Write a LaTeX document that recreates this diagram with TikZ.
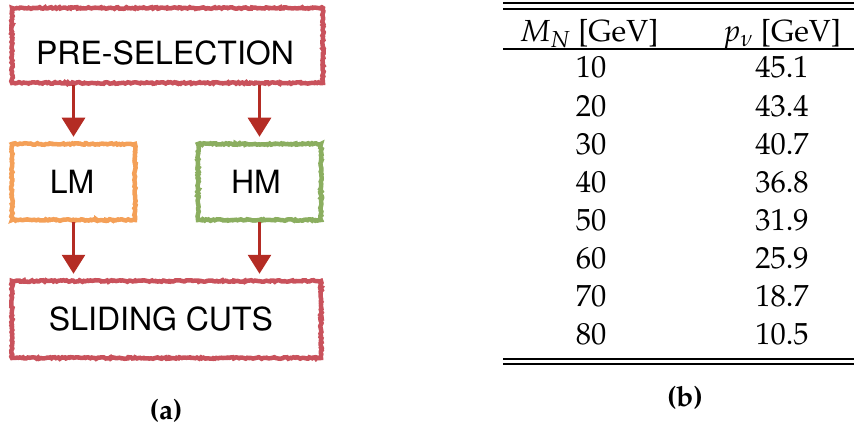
\documentclass[tikz,border=0pt]{standalone}
\usepackage[T1]{fontenc}
\usepackage{mathpazo}
\usepackage[scaled=1]{helvet}
\usetikzlibrary{arrows.meta,decorations.pathmorphing}

\definecolor{boxred}{RGB}{201,82,92}
\definecolor{boxorange}{RGB}{244,160,88}
\definecolor{boxgreen}{RGB}{139,174,96}
\definecolor{arrowred}{RGB}{180,44,36}

\tikzset{
  sketch/.style={decorate, decoration={random steps, segment length=1.6pt, amplitude=0.8pt}},
  flowbox/.style={draw=#1, line width=4.5pt, sketch, minimum height=75pt, inner sep=0pt},
  flowtext/.style={font=\sffamily\fontsize{32}{38}\selectfont, inner sep=0pt},
  flowarrow/.style={draw=arrowred, line width=3pt,
    -{Triangle[width=23pt,length=19pt]}, shorten >=5pt},
  cell/.style={font=\fontsize{30.5}{36}\selectfont, inner sep=0pt, anchor=base},
  caption/.style={font=\bfseries\fontsize{28}{32}\selectfont, inner sep=0pt},
  rule/.style={line width=1.1pt}
}

\begin{document}
\begin{tikzpicture}[x=1pt, y=-1pt]
\pgfmathsetseed{7}
\useasboundingbox (0,0) rectangle (854,433);

% --- flow chart ---
\node[flowbox=boxred, minimum width=311pt] (pre) at (167.5,45.5) {};
\node[flowtext] (pretext) at (165,53) {PRE-SELECTION};

\node[flowbox=boxorange, minimum width=123pt, minimum height=76pt] (lm) at (73.5,182) {};
\node[flowtext] (lmtext) at (72,182) {LM};

\node[flowbox=boxgreen, minimum width=123pt, minimum height=76pt] (hm) at (259.5,182) {};
\node[flowtext] (hmtext) at (256,182) {HM};

\node[flowbox=boxred, minimum width=309pt, minimum height=77pt] (cuts) at (166.5,319.5) {};
\node[flowtext] (cutstext) at (161,319) {SLIDING CUTS};

\draw[flowarrow] (pre.south -| lm.center) -- (lm.north);
\draw[flowarrow] (pre.south -| hm.center) -- (hm.north);
\draw[flowarrow] (lm.south) -- (cuts.north -| lm.center);
\draw[flowarrow] (hm.south) -- (cuts.north -| hm.center);

\node[caption] (capa) at (166,411) {(a)};

% --- table ---
\coordinate (tl) at (503,0);
\coordinate (tr) at (854,0);
\draw[rule] ([yshift=-3pt]tl) -- ([yshift=-3pt]tr);
\draw[rule] ([yshift=-9pt]tl) -- ([yshift=-9pt]tr);
\draw[rule] ([yshift=-49pt]tl) -- ([yshift=-49pt]tr);
\draw[rule] ([yshift=-359pt]tl) -- ([yshift=-359pt]tr);
\draw[rule] ([yshift=-364pt]tl) -- ([yshift=-364pt]tr);

\node[cell] (h1) at (589,42) {$M_N$ [GeV]};
\node[cell] (h2) at (782,42) {$p_\nu$ [GeV]};

\foreach \m/\p [count=\i from 0] in {10/45.1,20/43.4,30/40.7,40/36.8,50/31.9,60/25.9,70/18.7,80/10.5}{
  \node[cell] (m\i) at (591,78+38.1*\i) {\m};
  \node[cell] (p\i) at (782,78+38.1*\i) {\p};
}

\node[caption] (capb) at (685,398) {(b)};
\end{tikzpicture}
\end{document}
